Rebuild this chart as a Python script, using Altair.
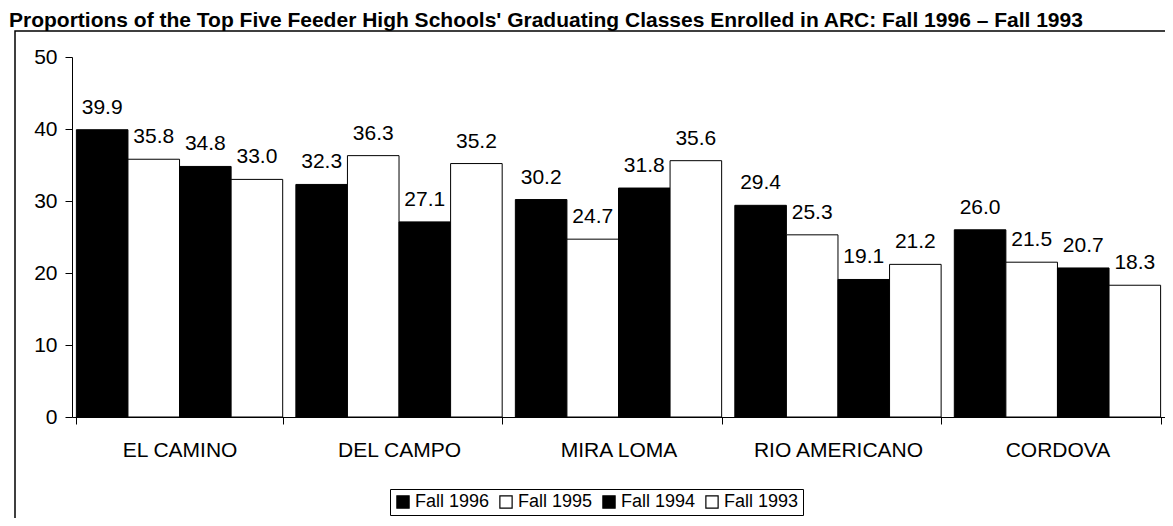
import altair as alt
import pandas as pd

schools = ["EL CAMINO", "DEL CAMPO", "MIRA LOMA", "RIO AMERICANO", "CORDOVA"]
terms = ["Fall 1996", "Fall 1995", "Fall 1994", "Fall 1993"]
fall_1996 = [39.9, 32.3, 30.2, 29.4, 26.0]
fall_1995 = [35.8, 36.3, 24.7, 25.3, 21.5]
fall_1994 = [34.8, 27.1, 31.8, 19.1, 20.7]
fall_1993 = [33.0, 35.2, 35.6, 21.2, 18.3]
fills = ["#000000", "#ffffff", "#000000", "#ffffff"]

series = [fall_1996, fall_1995, fall_1994, fall_1993]
rows = []
for t, vals in zip(terms, series):
    for s, v in zip(schools, vals):
        rows.append({"school": s, "term": t, "value": v, "label": f"{v:.1f}"})
df = pd.DataFrame(rows)

FONT = "Liberation Sans"
FS = 21

x = alt.X("school:N", sort=schools, title=None,
          scale=alt.Scale(paddingInner=0.06, paddingOuter=0.02),
          axis=alt.Axis(labelAngle=0, labelFontSize=FS, labelFont=FONT, labelColor="black",
                        labelPadding=15, tickBand="extent", tickSize=7, tickColor="black",
                        domainColor="black"))
xo = alt.XOffset("term:N", sort=terms)
y = alt.Y("value:Q", title=None,
          scale=alt.Scale(domain=[0, 50]),
          axis=alt.Axis(values=[0, 10, 20, 30, 40, 50], grid=False, labelFontSize=FS,
                        labelFont=FONT, labelColor="black", tickSize=7, tickColor="black",
                        domainColor="black", labelPadding=8))

bars = alt.Chart(df).mark_bar(stroke="black", strokeWidth=1).encode(
    x=x, xOffset=xo, y=y,
    color=alt.Color("term:N", sort=terms, title=None,
                    scale=alt.Scale(domain=terms, range=fills),
                    legend=alt.Legend(orient="none", legendX=318, legendY=432, direction="horizontal",
                                      symbolType="square", symbolSize=150, symbolStrokeColor="black",
                                      symbolStrokeWidth=1.2, labelFontSize=18, labelFont=FONT,
                                      labelColor="black", strokeColor="black", padding=4,
                                      columnPadding=7, labelOffset=3, symbolOpacity=1)),
)

labels = alt.Chart(df).mark_text(fontSize=FS, font=FONT, color="black", baseline="alphabetic", dy=-16).encode(
    x=x, xOffset=xo, y=y, text="label:N"
)

frame = alt.Chart(pd.DataFrame({"k": [0]})).mark_rect(fill=None, stroke="black", strokeWidth=1.5).encode(
    x=alt.value(-57), x2=alt.value(1110), y=alt.value(-26), y2=alt.value(480)
)

chart = alt.layer(frame, bars, labels).properties(
    width=1093, height=360,
    title=alt.TitleParams(
        "Proportions of the Top Five Feeder High Schools' Graduating Classes Enrolled in ARC:  Fall 1996 \u2013 Fall 1993",
        anchor="start", frame="group", dx=-63, offset=-1, fontSize=21, font=FONT, fontWeight="bold",
        color="black"),
    autosize=alt.AutoSizeParams(type="none"),
    padding={"left": 64, "top": 49, "right": 0, "bottom": 101},
    background="white",
).configure_view(stroke="transparent", strokeWidth=0)

chart.save("out.html", embed_options={"renderer": "svg", "actions": False})
